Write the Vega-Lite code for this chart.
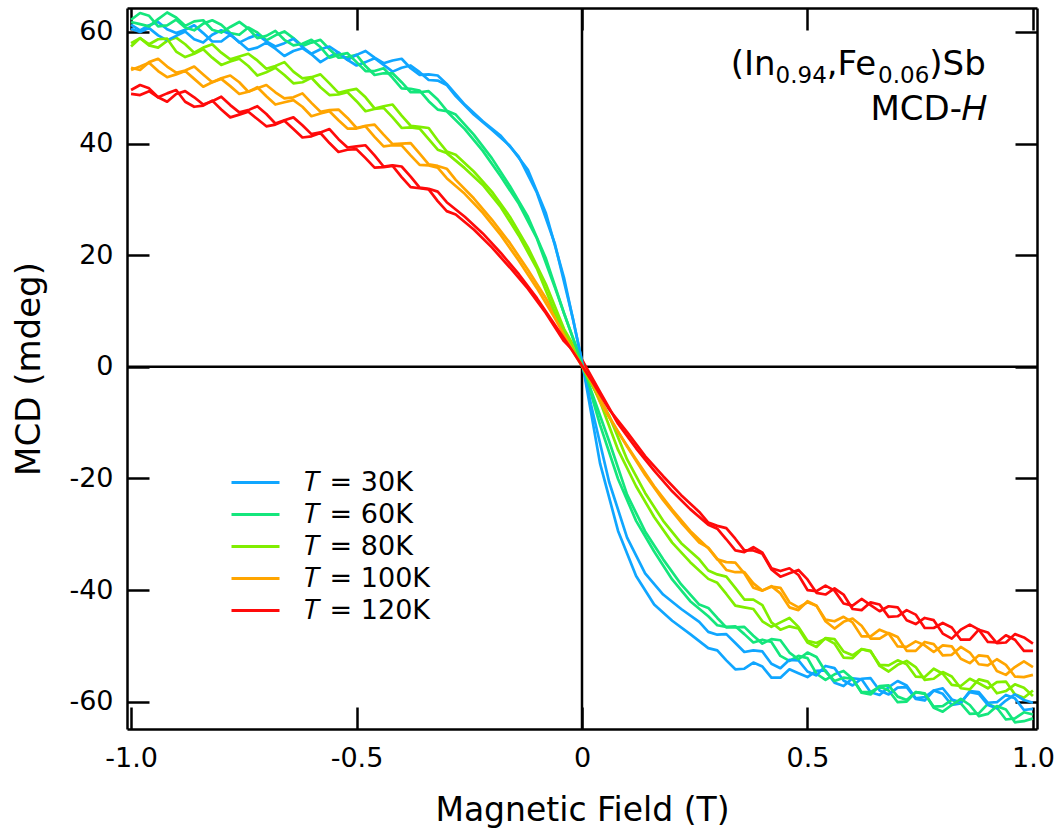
{
"$schema":"https://vega.github.io/schema/vega-lite/v6.json",
"width":910,"height":721,
"autosize":{"type":"none"},
"padding":{"left":127,"top":8,"right":25,"bottom":103},
"background":"white",
"config":{"view":{"stroke":null},"font":"DejaVu Sans"},
"data":{"values":[
{"H":-1.0,"b":"a","T30":61.3,"T60":62.2,"T80":58.0,"T100":53.6,"T120":49.6},
{"H":-1.0,"b":"b","T30":60.6,"T60":61.8,"T80":57.4,"T100":53.2,"T120":48.9},
{"H":-0.98,"b":"b","T30":60.0,"T60":61.4,"T80":58.9,"T100":53.8,"T120":48.7},
{"H":-0.96,"b":"a","T30":61.2,"T60":62.9,"T80":57.6,"T100":54.6,"T120":49.9},
{"H":-0.94,"b":"b","T30":59.4,"T60":62.3,"T80":58.7,"T100":53.0,"T120":48.3},
{"H":-0.92,"b":"a","T30":60.5,"T60":61.2,"T80":58.4,"T100":53.8,"T120":49.0},
{"H":-0.90,"b":"b","T30":59.3,"T60":62.6,"T80":56.5,"T100":52.4,"T120":48.9},
{"H":-0.88,"b":"a","T30":60.4,"T60":60.8,"T80":57.8,"T100":53.1,"T120":47.5},
{"H":-0.86,"b":"b","T30":58.7,"T60":61.9,"T80":56.1,"T100":51.6,"T120":48.3},
{"H":-0.84,"b":"a","T30":59.8,"T60":61.5,"T80":57.2,"T100":52.4,"T120":46.8},
{"H":-0.82,"b":"b","T30":59.5,"T60":60.4,"T80":55.4,"T100":51.0,"T120":47.6},
{"H":-0.80,"b":"a","T30":58.3,"T60":61.3,"T80":56.3,"T100":51.7,"T120":46.1},
{"H":-0.78,"b":"b","T30":59.6,"T60":60.9,"T80":54.7,"T100":50.3,"T120":46.9},
{"H":-0.76,"b":"a","T30":58.2,"T60":59.5,"T80":55.6,"T100":51.0,"T120":45.2},
{"H":-0.74,"b":"b","T30":58.9,"T60":60.6,"T80":53.9,"T100":49.3,"T120":46.0},
{"H":-0.72,"b":"a","T30":57.2,"T60":59.9,"T80":54.9,"T100":49.9,"T120":44.4},
{"H":-0.70,"b":"b","T30":58.3,"T60":59.3,"T80":52.8,"T100":48.5,"T120":45.3},
{"H":-0.68,"b":"a","T30":57.0,"T60":59.4,"T80":53.9,"T100":49.2,"T120":43.4},
{"H":-0.66,"b":"b","T30":58.0,"T60":58.6,"T80":52.3,"T100":47.4,"T120":44.2},
{"H":-0.64,"b":"a","T30":56.6,"T60":58.9,"T80":52.9,"T100":48.3,"T120":42.6},
{"H":-0.62,"b":"b","T30":57.3,"T60":57.9,"T80":51.0,"T100":46.6,"T120":43.3},
{"H":-0.60,"b":"a","T30":56.0,"T60":58.1,"T80":51.9,"T100":47.3,"T120":41.3},
{"H":-0.58,"b":"b","T30":56.9,"T60":57.3,"T80":50.1,"T100":45.4,"T120":42.0},
{"H":-0.56,"b":"a","T30":55.6,"T60":56.9,"T80":50.8,"T100":46.0,"T120":40.1},
{"H":-0.54,"b":"b","T30":56.3,"T60":55.9,"T80":48.8,"T100":44.2,"T120":40.8},
{"H":-0.52,"b":"a","T30":55.0,"T60":55.5,"T80":49.5,"T100":44.6,"T120":38.9},
{"H":-0.50,"b":"b","T30":55.9,"T60":54.6,"T80":47.6,"T100":42.7,"T120":39.5},
{"H":-0.48,"b":"a","T30":54.6,"T60":53.9,"T80":48.3,"T100":43.2,"T120":37.4},
{"H":-0.46,"b":"b","T30":55.4,"T60":53.0,"T80":46.2,"T100":41.2,"T120":37.9},
{"H":-0.44,"b":"a","T30":54.1,"T60":52.6,"T80":46.7,"T100":41.6,"T120":35.8},
{"H":-0.42,"b":"b","T30":54.9,"T60":51.8,"T80":44.7,"T100":39.7,"T120":36.1},
{"H":-0.40,"b":"a","T30":53.6,"T60":51.0,"T80":45.0,"T100":40.0,"T120":34.0},
{"H":-0.38,"b":"b","T30":53.5,"T60":49.8,"T80":42.9,"T100":37.9,"T120":34.1},
{"H":-0.36,"b":"a","T30":52.8,"T60":49.2,"T80":43.0,"T100":38.2,"T120":32.0},
{"H":-0.34,"b":"b","T30":52.4,"T60":47.6,"T80":40.8,"T100":36.1,"T120":31.9},
{"H":-0.32,"b":"a","T30":51.3,"T60":47.9,"T80":40.6,"T100":36.0,"T120":29.7},
{"H":-0.30,"b":"b","T30":50.7,"T60":45.8,"T80":38.3,"T100":33.8,"T120":29.5},
{"H":-0.28,"b":"a","T30":48.5,"T60":45.2,"T80":38.0,"T100":33.5,"T120":27.3},
{"H":-0.26,"b":"b","T30":47.0,"T60":42.6,"T80":35.6,"T100":31.0,"T120":26.9},
{"H":-0.24,"b":"a","T30":45.2,"T60":41.6,"T80":35.0,"T100":30.2,"T120":24.6},
{"H":-0.22,"b":"b","T30":44.0,"T60":38.7,"T80":32.6,"T100":27.6,"T120":23.9},
{"H":-0.20,"b":"a","T30":42.5,"T60":37.4,"T80":31.4,"T100":26.4,"T120":21.4},
{"H":-0.18,"b":"b","T30":41.4,"T60":34.1,"T80":28.6,"T100":23.6,"T120":20.4},
{"H":-0.16,"b":"a","T30":39.6,"T60":32.4,"T80":26.9,"T100":22.2,"T120":17.8},
{"H":-0.14,"b":"b","T30":37.6,"T60":29.2,"T80":23.5,"T100":19.0,"T120":16.6},
{"H":-0.12,"b":"a","T30":35.3,"T60":26.9,"T80":21.4,"T100":17.4,"T120":14.0},
{"H":-0.10,"b":"b","T30":31.2,"T60":23.0,"T80":17.6,"T100":14.1,"T120":12.3},
{"H":-0.08,"b":"a","T30":27.5,"T60":19.4,"T80":14.8,"T100":12.3,"T120":9.6},
{"H":-0.06,"b":"b","T30":22.0,"T60":14.2,"T80":9.7,"T100":8.7,"T120":7.5},
{"H":-0.04,"b":"a","T30":16.0,"T60":9.6,"T80":6.8,"T100":6.2,"T120":4.6},
{"H":-0.02,"b":"b","T30":8.6,"T60":5.1,"T80":3.3,"T100":2.8,"T120":2.7},
{"H":0.0,"b":"a","T30":1.0,"T60":0.8,"T80":1.2,"T100":0.9,"T120":1.3},
{"H":0.02,"b":"b","T30":-6.8,"T60":-4.2,"T80":-3.0,"T100":-2.5,"T120":-2.3},
{"H":0.04,"b":"a","T30":-17.3,"T60":-10.4,"T80":-6.2,"T100":-6.3,"T120":-4.5},
{"H":0.06,"b":"b","T30":-20.6,"T60":-13.3,"T80":-8.7,"T100":-8.9,"T120":-7.6},
{"H":0.08,"b":"a","T30":-29.4,"T60":-20.1,"T80":-14.9,"T100":-11.7,"T120":-10.2},
{"H":0.10,"b":"b","T30":-30.6,"T60":-22.9,"T80":-16.6,"T100":-14.3,"T120":-11.7},
{"H":0.12,"b":"a","T30":-37.5,"T60":-27.6,"T80":-21.4,"T100":-16.6,"T120":-14.6},
{"H":0.14,"b":"b","T30":-37.0,"T60":-29.5,"T80":-22.6,"T100":-19.4,"T120":-16.0},
{"H":0.16,"b":"a","T30":-42.6,"T60":-33.1,"T80":-26.9,"T100":-21.4,"T120":-18.6},
{"H":0.18,"b":"b","T30":-40.8,"T60":-34.5,"T80":-27.6,"T100":-23.9,"T120":-19.6},
{"H":0.20,"b":"a","T30":-45.5,"T60":-38.1,"T80":-31.5,"T100":-25.6,"T120":-22.3},
{"H":0.22,"b":"b","T30":-43.4,"T60":-39.0,"T80":-31.6,"T100":-27.9,"T120":-23.0},
{"H":0.24,"b":"a","T30":-47.9,"T60":-42.0,"T80":-35.0,"T100":-29.4,"T120":-25.5},
{"H":0.26,"b":"b","T30":-45.7,"T60":-42.6,"T80":-34.5,"T100":-31.5,"T120":-26.0},
{"H":0.28,"b":"a","T30":-50.4,"T60":-44.7,"T80":-38.0,"T100":-32.5,"T120":-28.3},
{"H":0.30,"b":"b","T30":-48.0,"T60":-45.0,"T80":-37.2,"T100":-34.4,"T120":-28.5},
{"H":0.32,"b":"a","T30":-52.6,"T60":-46.6,"T80":-40.7,"T100":-35.0,"T120":-30.9},
{"H":0.34,"b":"b","T30":-49.5,"T60":-46.7,"T80":-39.6,"T100":-36.8,"T120":-30.8},
{"H":0.36,"b":"a","T30":-54.1,"T60":-47.9,"T80":-43.1,"T100":-37.0,"T120":-33.2},
{"H":0.38,"b":"b","T30":-50.8,"T60":-48.2,"T80":-41.7,"T100":-38.8,"T120":-32.9},
{"H":0.40,"b":"a","T30":-53.7,"T60":-48.9,"T80":-45.6,"T100":-40.1,"T120":-33.3},
{"H":0.42,"b":"b","T30":-53.2,"T60":-48.8,"T80":-45.8,"T100":-39.4,"T120":-36.3},
{"H":0.44,"b":"a","T30":-55.7,"T60":-51.8,"T80":-45.8,"T100":-40.6,"T120":-36.6},
{"H":0.46,"b":"b","T30":-52.5,"T60":-51.2,"T80":-46.5,"T100":-42.2,"T120":-37.0},
{"H":0.48,"b":"a","T30":-54.9,"T60":-51.8,"T80":-46.6,"T100":-43.6,"T120":-37.3},
{"H":0.50,"b":"b","T30":-54.6,"T60":-51.2,"T80":-49.4,"T100":-42.2,"T120":-38.1},
{"H":0.52,"b":"a","T30":-54.5,"T60":-55.0,"T80":-49.5,"T100":-42.8,"T120":-40.2},
{"H":0.54,"b":"b","T30":-53.6,"T60":-54.6,"T80":-48.6,"T100":-45.6,"T120":-40.8},
{"H":0.56,"b":"a","T30":-56.6,"T60":-55.1,"T80":-49.6,"T100":-45.6,"T120":-40.1},
{"H":0.58,"b":"b","T30":-56.2,"T60":-55.7,"T80":-51.0,"T100":-45.7,"T120":-40.8},
{"H":0.60,"b":"a","T30":-55.8,"T60":-55.9,"T80":-52.2,"T100":-45.8,"T120":-42.8},
{"H":0.62,"b":"b","T30":-55.9,"T60":-58.4,"T80":-50.6,"T100":-46.4,"T120":-43.6},
{"H":0.64,"b":"a","T30":-58.3,"T60":-58.3,"T80":-51.0,"T100":-48.3,"T120":-42.7},
{"H":0.66,"b":"b","T30":-58.0,"T60":-57.2,"T80":-53.6,"T100":-48.7,"T120":-42.6},
{"H":0.68,"b":"a","T30":-57.4,"T60":-58.0,"T80":-53.5,"T100":-47.8,"T120":-42.9},
{"H":0.70,"b":"b","T30":-57.5,"T60":-59.1,"T80":-53.4,"T100":-48.4,"T120":-44.7},
{"H":0.72,"b":"a","T30":-57.1,"T60":-60.0,"T80":-53.3,"T100":-50.2,"T120":-45.4},
{"H":0.74,"b":"b","T30":-59.5,"T60":-58.3,"T80":-53.8,"T100":-50.9,"T120":-44.4},
{"H":0.76,"b":"a","T30":-59.2,"T60":-58.6,"T80":-55.6,"T100":-49.9,"T120":-45.0},
{"H":0.78,"b":"b","T30":-58.0,"T60":-61.1,"T80":-55.9,"T100":-49.7,"T120":-46.8},
{"H":0.80,"b":"a","T30":-58.6,"T60":-60.8,"T80":-55.0,"T100":-49.9,"T120":-47.8},
{"H":0.82,"b":"b","T30":-59.6,"T60":-60.6,"T80":-55.5,"T100":-51.6,"T120":-46.7},
{"H":0.84,"b":"a","T30":-60.3,"T60":-60.3,"T80":-57.2,"T100":-52.3,"T120":-47.1},
{"H":0.86,"b":"b","T30":-58.3,"T60":-60.6,"T80":-57.8,"T100":-51.2,"T120":-48.9},
{"H":0.88,"b":"a","T30":-58.3,"T60":-62.1,"T80":-56.7,"T100":-51.7,"T120":-47.1},
{"H":0.90,"b":"b","T30":-60.6,"T60":-62.2,"T80":-56.4,"T100":-53.5,"T120":-47.6},
{"H":0.92,"b":"a","T30":-60.1,"T60":-61.1,"T80":-56.5,"T100":-54.5,"T120":-49.4},
{"H":0.94,"b":"b","T30":-59.8,"T60":-61.4,"T80":-58.1,"T100":-53.4,"T120":-49.4},
{"H":0.96,"b":"a","T30":-59.4,"T60":-63.0,"T80":-58.7,"T100":-53.8,"T120":-48.9},
{"H":0.98,"b":"b","T30":-59.7,"T60":-63.5,"T80":-57.5,"T100":-55.6,"T120":-48.5},
{"H":1.0,"b":"a","T30":-61.3,"T60":-62.3,"T80":-58.0,"T100":-53.8,"T120":-50.9},
{"H":1.0,"b":"b","T30":-60.2,"T60":-63.0,"T80":-59.0,"T100":-55.2,"T120":-49.6},
{"H":-0.98,"b":"a","T30":60.3,"T60":63.4,"T80":58.9,"T100":53.2,"T120":50.5},
{"H":-0.94,"b":"a","T30":61.8,"T60":61.0,"T80":57.2,"T100":55.2,"T120":48.3},
{"H":-0.90,"b":"a","T30":59.8,"T60":62.2,"T80":59.0,"T100":52.7,"T120":49.6},
{"H":-0.86,"b":"a","T30":61.2,"T60":60.3,"T80":56.3,"T100":53.8,"T120":46.6},
{"H":-0.82,"b":"a","T30":58.3,"T60":62.1,"T80":57.8,"T100":51.0,"T120":47.7},
{"H":-0.78,"b":"a","T30":59.5,"T60":59.8,"T80":55.1,"T100":52.2,"T120":44.7},
{"H":-0.74,"b":"a","T30":56.8,"T60":60.8,"T80":56.1,"T100":49.3,"T120":45.7},
{"H":-0.70,"b":"a","T30":58.1,"T60":58.5,"T80":53.4,"T100":50.5,"T120":43.1},
{"H":-0.66,"b":"a","T30":55.7,"T60":60.1,"T80":54.6,"T100":48.1,"T120":44.1},
{"H":-0.62,"b":"a","T30":57.1,"T60":57.5,"T80":51.7,"T100":49.0,"T120":41.1},
{"H":-0.58,"b":"a","T30":54.6,"T60":58.6,"T80":52.4,"T100":45.7,"T120":41.9},
{"H":-0.54,"b":"a","T30":56.3,"T60":55.4,"T80":49.1,"T100":46.1,"T120":38.5},
{"H":-0.50,"b":"a","T30":54.0,"T60":55.9,"T80":49.8,"T100":42.8,"T120":39.0},
{"H":-0.46,"b":"a","T30":55.3,"T60":52.3,"T80":46.3,"T100":43.4,"T120":35.7},
{"H":-0.42,"b":"a","T30":52.9,"T60":52.6,"T80":47.0,"T100":39.9,"T120":36.0},
{"H":-0.38,"b":"a","T30":54.0,"T60":49.2,"T80":43.2,"T100":40.1,"T120":32.2},
{"H":-0.34,"b":"a","T30":51.4,"T60":49.4,"T80":42.8,"T100":36.3,"T120":31.8},
{"H":-0.30,"b":"a","T30":50.5,"T60":45.9,"T80":38.6,"T100":35.5,"T120":27.9},
{"H":-0.96,"b":"b","T30":60.7,"T60":61.0,"T80":57.8,"T100":54.5,"T120":49.4},
{"H":-0.92,"b":"b","T30":58.5,"T60":63.5,"T80":58.8,"T100":51.9,"T120":47.5},
{"H":-0.88,"b":"b","T30":60.1,"T60":61.1,"T80":55.5,"T100":53.0,"T120":49.4},
{"H":-0.84,"b":"b","T30":58.1,"T60":62.1,"T80":56.9,"T100":50.2,"T120":47.0},
{"H":-0.80,"b":"b","T30":60.3,"T60":59.9,"T80":54.1,"T100":51.6,"T120":48.4},
{"H":-0.76,"b":"b","T30":58.1,"T60":61.8,"T80":55.2,"T100":48.9,"T120":45.6},
{"H":-0.72,"b":"b","T30":59.5,"T60":58.9,"T80":52.2,"T100":50.1,"T120":46.7},
{"H":-0.68,"b":"b","T30":57.4,"T60":60.2,"T80":53.6,"T100":47.0,"T120":43.6},
{"H":-0.64,"b":"b","T30":58.8,"T60":57.6,"T80":50.8,"T100":47.8,"T120":44.7},
{"H":-0.60,"b":"b","T30":56.1,"T60":58.6,"T80":51.8,"T100":44.9,"T120":41.7},
{"H":-0.56,"b":"b","T30":57.4,"T60":55.4,"T80":48.7,"T100":45.8,"T120":42.6},
{"H":-0.52,"b":"b","T30":55.0,"T60":56.2,"T80":49.2,"T100":42.7,"T120":39.3},
{"H":-0.48,"b":"b","T30":56.6,"T60":53.0,"T80":45.8,"T100":43.1,"T120":39.7},
{"H":-0.44,"b":"b","T30":54.4,"T60":53.5,"T80":46.4,"T100":39.5,"T120":35.9},
{"H":-0.40,"b":"b","T30":55.2,"T60":49.9,"T80":42.8,"T100":39.7,"T120":35.9},
{"H":-0.36,"b":"b","T30":52.3,"T60":49.5,"T80":42.7,"T100":36.2,"T120":32.1},
{"H":-0.32,"b":"b","T30":52.2,"T60":46.1,"T80":38.9,"T100":35.7,"T120":31.4},
{"H":0.30,"b":"a","T30":-50.8,"T60":-46.3,"T80":-38.7,"T100":-34.5,"T120":-29.0},
{"H":0.34,"b":"a","T30":-54.2,"T60":-46.5,"T80":-42.8,"T100":-35.1,"T120":-32.9},
{"H":0.38,"b":"a","T30":-53.0,"T60":-49.4,"T80":-43.4,"T100":-39.6,"T120":-32.3},
{"H":0.42,"b":"a","T30":-55.7,"T60":-49.3,"T80":-46.6,"T100":-39.3,"T120":-36.1},
{"H":0.46,"b":"a","T30":-54.2,"T60":-52.7,"T80":-45.0,"T100":-43.1,"T120":-36.1},
{"H":0.50,"b":"a","T30":-55.6,"T60":-52.2,"T80":-49.1,"T100":-42.0,"T120":-40.0},
{"H":0.54,"b":"a","T30":-54.4,"T60":-56.1,"T80":-48.7,"T100":-45.3,"T120":-39.2},
{"H":0.58,"b":"a","T30":-57.2,"T60":-54.5,"T80":-52.1,"T100":-44.8,"T120":-42.4},
{"H":0.62,"b":"a","T30":-56.0,"T60":-58.3,"T80":-50.6,"T100":-48.3,"T120":-41.6},
{"H":0.66,"b":"a","T30":-58.8,"T60":-57.3,"T80":-53.4,"T100":-47.1,"T120":-43.8},
{"H":0.70,"b":"a","T30":-56.3,"T60":-60.1,"T80":-52.6,"T100":-50.1,"T120":-43.1},
{"H":0.74,"b":"a","T30":-59.4,"T60":-58.3,"T80":-55.5,"T100":-49.2,"T120":-46.1},
{"H":0.78,"b":"a","T30":-58.0,"T60":-60.9,"T80":-54.1,"T100":-51.1,"T120":-45.4},
{"H":0.82,"b":"a","T30":-60.6,"T60":-59.7,"T80":-57.0,"T100":-50.1,"T120":-48.7},
{"H":0.86,"b":"a","T30":-58.1,"T60":-62.2,"T80":-55.9,"T100":-53.1,"T120":-46.2},
{"H":0.90,"b":"a","T30":-60.2,"T60":-60.4,"T80":-57.6,"T100":-51.9,"T120":-49.3},
{"H":0.94,"b":"a","T30":-58.8,"T60":-63.2,"T80":-56.4,"T100":-55.2,"T120":-48.1},
{"H":0.98,"b":"a","T30":-61.5,"T60":-61.9,"T80":-59.3,"T100":-52.8,"T120":-50.9},
{"H":0.28,"b":"b","T30":-47.5,"T60":-43.2,"T80":-36.5,"T100":-32.4,"T120":-27.9},
{"H":0.32,"b":"b","T30":-47.9,"T60":-46.7,"T80":-37.6,"T100":-36.4,"T120":-28.9},
{"H":0.36,"b":"b","T30":-51.1,"T60":-46.6,"T80":-41.7,"T100":-36.8,"T120":-32.9},
{"H":0.40,"b":"b","T30":-51.0,"T60":-49.6,"T80":-42.7,"T100":-40.1,"T120":-33.5},
{"H":0.44,"b":"b","T30":-54.0,"T60":-49.0,"T80":-47.1,"T100":-39.6,"T120":-37.6},
{"H":0.48,"b":"b","T30":-52.6,"T60":-52.4,"T80":-46.9,"T100":-43.1,"T120":-36.4},
{"H":0.52,"b":"b","T30":-55.3,"T60":-52.0,"T80":-50.2,"T100":-42.8,"T120":-40.5},
{"H":0.56,"b":"b","T30":-54.0,"T60":-56.3,"T80":-48.8,"T100":-46.9,"T120":-39.7},
{"H":0.60,"b":"b","T30":-57.1,"T60":-55.9,"T80":-51.7,"T100":-45.1,"T120":-43.4},
{"H":0.64,"b":"b","T30":-55.8,"T60":-58.7,"T80":-50.9,"T100":-48.7,"T120":-42.2},
{"H":0.68,"b":"b","T30":-58.7,"T60":-57.1,"T80":-54.6,"T100":-47.7,"T120":-44.8},
{"H":0.72,"b":"b","T30":-57.4,"T60":-59.7,"T80":-52.7,"T100":-50.9,"T120":-43.6},
{"H":0.76,"b":"b","T30":-59.8,"T60":-58.5,"T80":-56.1,"T100":-49.3,"T120":-46.8},
{"H":0.80,"b":"b","T30":-57.6,"T60":-61.8,"T80":-54.7,"T100":-51.7,"T120":-45.9},
{"H":0.84,"b":"b","T30":-60.1,"T60":-59.5,"T80":-57.6,"T100":-50.2,"T120":-48.9},
{"H":0.88,"b":"b","T30":-58.6,"T60":-62.6,"T80":-56.0,"T100":-53.3,"T120":-47.1},
{"H":0.92,"b":"b","T30":-61.2,"T60":-60.8,"T80":-58.5,"T100":-52.4,"T120":-49.5},
{"H":0.96,"b":"b","T30":-58.7,"T60":-63.7,"T80":-56.9,"T100":-55.5,"T120":-47.9}
]},
"layer":[
{"data":{"values":[{}]},"mark":{"type":"rule","color":"black","strokeWidth":2.5},"encoding":{"x":{"datum":0,"type":"quantitative","scale":{"domain":[-1.009,1.009],"nice":false,"zero":false},"axis":null}}},
{"data":{"values":[{}]},"mark":{"type":"rule","color":"black","strokeWidth":2.5},"encoding":{"y":{"datum":0,"type":"quantitative","scale":{"domain":[-64.9,64.3],"nice":false,"zero":false},"axis":null}}},
{"transform":[{"fold":["T30","T60","T80","T100","T120"],"as":["T","M"]}],
 "mark":{"type":"line","strokeWidth":2.7,"clip":true,"strokeJoin":"round"},
 "encoding":{
  "x":{"field":"H","type":"quantitative","scale":{"domain":[-1.009,1.009],"nice":false,"zero":false},
   "axis":{"orient":"bottom","values":[-1,-0.5,0,0.5,1],"title":"Magnetic Field (T)","titleFontSize":33,"titleFontWeight":"normal","titleColor":"black","titlePadding":23,
    "labelFontSize":27,"labelColor":"black","labelPadding":38,"labelFlush":false,"labelOverlap":false,
    "labelExpr":"datum.value == 0 ? '0' : (datum.value < 0 ? '-' : '') + format(abs(datum.value), '.1f')",
    "tickSize":-22,"tickWidth":2.5,"tickColor":"black","domainColor":"black","domainWidth":2.5,"grid":false}},
  "y":{"field":"M","type":"quantitative","scale":{"domain":[-64.9,64.3],"nice":false,"zero":false},
   "axis":{"orient":"left","values":[-60,-40,-20,0,20,40,60],"title":"MCD (mdeg)","titleFontSize":34,"titleFontWeight":"normal","titleColor":"black","titlePadding":22,
    "labelFontSize":27,"labelColor":"black","labelPadding":36,"labelFlush":false,"labelOverlap":false,
    "labelExpr":"(datum.value < 0 ? '-' : '') + abs(datum.value)",
    "tickSize":-22,"tickWidth":2.5,"tickColor":"black","domainColor":"black","domainWidth":2.5,"grid":false}},
  "color":{"field":"T","type":"nominal","scale":{"domain":["T30","T60","T80","T100","T120"],"range":["#10a6ff","#14e67c","#80ee00","#ffa500","#ff0a0a"]},
   "legend":{"orient":"none","legendX":115,"legendY":461,"title":null,"padding":0,"symbolType":"M-4,0H4","symbolSize":144,"symbolStrokeWidth":3,"labelFontSize":27,"labelColor":"black","labelOffset":35,"rowPadding":4,
    "labelExpr":"'\ud835\udc47 = ' + slice(datum.label, 1) + 'K'"}},
  "detail":{"field":"b"}
 }},
{"mark":{"type":"point","opacity":0},
 "encoding":{
  "x":{"field":"H","type":"quantitative","scale":{"domain":[-1.009,1.009],"nice":false,"zero":false},
   "axis":{"orient":"top","values":[-1,-0.5,0,0.5,1],"title":null,"labels":false,"tickSize":-22,"tickWidth":2.5,"tickColor":"black","domainColor":"black","domainWidth":2.5,"grid":false}},
  "y":{"field":"T30","type":"quantitative","scale":{"domain":[-64.9,64.3],"nice":false,"zero":false},
   "axis":{"orient":"right","values":[-60,-40,-20,0,20,40,60],"title":null,"labels":false,"tickSize":-22,"tickWidth":2.5,"tickColor":"black","domainColor":"black","domainWidth":2.5,"grid":false}}
 }},
{"data":{"values":[{}]},"mark":{"type":"text","text":"(In","align":"left","baseline":"alphabetic","fontSize":34,"color":"black","dx":0},
 "encoding":{"x":{"datum":0.33,"type":"quantitative","axis":null},"y":{"datum":52.3,"type":"quantitative","axis":null}}},
{"data":{"values":[{}]},"mark":{"type":"text","text":"0.94","align":"left","baseline":"alphabetic","fontSize":23,"color":"black","dx":44.8,"dy":8},
 "encoding":{"x":{"datum":0.33,"type":"quantitative","axis":null},"y":{"datum":52.3,"type":"quantitative","axis":null}}},
{"data":{"values":[{}]},"mark":{"type":"text","text":",Fe","align":"left","baseline":"alphabetic","fontSize":34,"color":"black","dx":96.0},
 "encoding":{"x":{"datum":0.33,"type":"quantitative","axis":null},"y":{"datum":52.3,"type":"quantitative","axis":null}}},
{"data":{"values":[{}]},"mark":{"type":"text","text":"0.06","align":"left","baseline":"alphabetic","fontSize":23,"color":"black","dx":147.3,"dy":8},
 "encoding":{"x":{"datum":0.33,"type":"quantitative","axis":null},"y":{"datum":52.3,"type":"quantitative","axis":null}}},
{"data":{"values":[{}]},"mark":{"type":"text","text":")Sb","align":"left","baseline":"alphabetic","fontSize":34,"color":"black","dx":198.5},
 "encoding":{"x":{"datum":0.33,"type":"quantitative","axis":null},"y":{"datum":52.3,"type":"quantitative","axis":null}}},
{"data":{"values":[{}]},"mark":{"type":"text","text":"MCD-\ud835\udc3b","align":"right","baseline":"alphabetic","fontSize":34,"color":"black"},
 "encoding":{"x":{"datum":0.898,"type":"quantitative","axis":null},"y":{"datum":44.3,"type":"quantitative","axis":null}}}
],
"resolve":{"axis":{"x":"independent","y":"independent"}}
}
